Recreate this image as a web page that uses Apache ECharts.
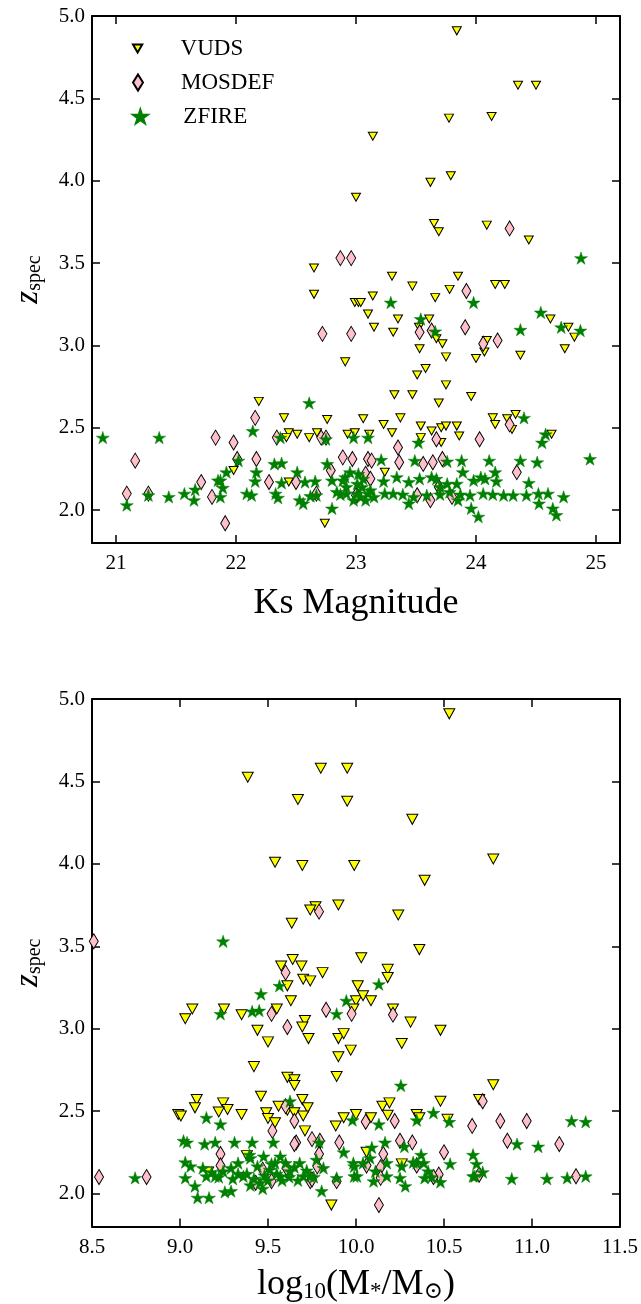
<!DOCTYPE html>
<html>
<head>
<meta charset="utf-8">
<script src="https://cdn.jsdelivr.net/npm/echarts@6/dist/echarts.min.js"></script>
<style>
html,body{margin:0;padding:0;background:#fff;}
#chart{width:641px;height:1304px;}
</style>
</head>
<body>
<div id="chart"></div>
<script>
// ---------------- DATA ----------------
const seriesNames = ['VUDS', 'MOSDEF', 'ZFIRE'];
const ticksZ = [2.0, 2.5, 3.0, 3.5, 4.0, 4.5, 5.0];
const ticksKs = [21, 22, 23, 24, 25];
const ticksMass = [8.5, 9.0, 9.5, 10.0, 10.5, 11.0, 11.5];

// Top panel: [Ks magnitude, z_spec]
const vudsKs = [
[23.84,4.91],[24.35,4.58],[24.50,4.58],[24.13,4.39],[23.775,4.38],[23.14,4.27],[23.79,4.03],[23.62,3.99],
[23.00,3.90],[23.65,3.74],[23.69,3.69],[24.09,3.73],[24.44,3.64],[23.30,3.42],[23.85,3.42],[22.65,3.47],
[22.65,3.31],[22.99,3.26],[23.02,3.26],[22.91,2.90],[23.47,3.36],[23.78,3.34],[24.16,3.37],[24.24,3.37],
[23.04,3.26],[23.14,3.30],[23.66,3.29],[23.10,3.19],[23.15,3.11],[23.35,3.16],[23.31,3.08],[23.61,3.16],
[23.525,3.11],[23.67,3.04],[23.72,3.01],[23.53,2.98],[23.75,2.93],[24.00,2.92],[24.07,2.96],[24.09,3.03],
[24.37,2.94],[24.62,3.16],[24.77,3.11],[24.82,3.05],[24.74,2.98],[23.58,2.86],[23.51,2.82],[23.75,2.76],
[23.32,2.70],[23.47,2.70],[23.96,2.69],[23.69,2.65],[22.19,2.66],[22.40,2.56],[22.76,2.55],[23.06,2.555],
[23.37,2.56],[23.23,2.52],[24.14,2.56],[24.26,2.555],[24.33,2.58],[24.16,2.52],[24.30,2.49],[23.54,2.51],
[23.30,2.47],[23.63,2.48],[23.71,2.50],[23.75,2.51],[23.84,2.51],[23.86,2.45],[23.54,2.44],[23.11,2.46],
[22.44,2.47],[22.51,2.46],[22.61,2.44],[22.675,2.47],[22.42,2.44],[22.93,2.46],[22.99,2.47],[23.71,2.41],
[24.63,2.46],[21.98,2.24],[22.44,2.17],[23.24,2.23],[22.74,1.92]
];
const mosdefKs = [
[22.87,3.53],[22.96,3.53],[24.28,3.71],[22.72,3.07],[22.96,3.07],[22.16,2.56],[21.83,2.44],[21.98,2.41],
[22.34,2.44],[22.71,2.44],[22.75,2.44],[21.16,2.30],[22.01,2.31],[22.17,2.31],[22.89,2.32],[22.97,2.31],
[22.79,2.24],[21.71,2.17],[22.275,2.17],[22.50,2.17],[21.80,2.08],[21.09,2.10],[21.27,2.10],[22.67,2.10],
[23.01,2.09],[21.91,1.92],[23.92,3.33],[23.91,3.11],[23.53,3.08],[23.63,3.09],[24.06,3.01],[24.18,3.03],
[24.28,2.52],[23.67,2.43],[24.03,2.43],[23.35,2.38],[23.10,2.31],[23.13,2.30],[23.36,2.29],[23.56,2.28],
[23.64,2.29],[23.72,2.31],[24.34,2.23],[23.08,2.22],[23.12,2.19],[23.00,2.09],[23.62,2.06],[23.80,2.08],
[23.51,2.09],[23.69,2.14]
];
const zfireKs = [
[20.89,2.44],[21.36,2.44],[22.61,2.65],[22.14,2.48],[22.37,2.44],[22.75,2.43],[22.98,2.44],[22.02,2.30],
[22.32,2.28],[22.38,2.285],[22.76,2.28],[21.92,2.23],[21.85,2.18],[22.17,2.23],[22.16,2.175],[22.51,2.23],
[22.38,2.165],[22.575,2.17],[22.66,2.175],[22.80,2.18],[21.89,2.135],[21.66,2.125],[21.57,2.10],[21.44,2.08],
[21.27,2.09],[21.09,2.03],[21.65,2.06],[21.87,2.08],[22.09,2.10],[22.13,2.09],[22.33,2.10],[22.35,2.075],
[22.53,2.06],[22.56,2.04],[22.62,2.085],[22.67,2.09],[22.80,2.01],[22.84,2.11],[22.89,2.18],[22.92,2.10],
[22.95,2.23],[23.01,2.16],[23.29,3.26],[23.98,3.26],[23.54,3.16],[23.66,3.085],[24.54,3.20],[24.37,3.095],
[24.71,3.11],[24.87,3.09],[24.875,3.53],[24.40,2.56],[24.58,2.46],[24.55,2.41],[24.95,2.31],[23.10,2.44],
[23.52,2.41],[23.21,2.305],[23.49,2.30],[23.76,2.295],[23.88,2.30],[24.11,2.30],[24.37,2.30],[24.51,2.29],
[23.89,2.23],[24.16,2.23],[24.44,2.165],[24.04,2.20],[24.075,2.19],[24.17,2.175],[23.06,2.19],[23.23,2.175],
[23.34,2.20],[23.44,2.17],[23.53,2.19],[23.67,2.19],[23.76,2.16],[23.84,2.16],[23.98,2.18],[23.01,2.10],
[23.10,2.10],[23.24,2.10],[23.31,2.10],[23.39,2.095],[23.48,2.08],[23.59,2.09],[23.70,2.095],[23.78,2.11],
[23.87,2.095],[23.95,2.09],[24.06,2.10],[24.14,2.095],[24.23,2.09],[24.31,2.09],[24.42,2.09],[24.52,2.10],
[24.60,2.10],[24.73,2.08],[23.44,2.04],[23.85,2.06],[23.96,2.01],[24.02,1.96],[24.525,2.04],[24.64,2.01],
[24.67,1.97],[21.87,2.18],[22.91,2.20],[22.87,2.095],[22.92,2.14],[23.02,2.22],[23.05,2.14],[23.08,2.06],
[23.12,2.12],[23.15,2.08],[22.98,2.06],[23.04,2.08],[23.63,2.20],[23.70,2.14]
];

// Bottom panel: [log10(M*/Msun), z_spec]
const vudsMass = [
[9.80,4.58],[9.95,4.58],[9.385,4.525],[9.67,4.39],[9.95,4.38],[9.54,4.01],[9.695,3.99],[9.99,3.99],
[9.77,3.74],[9.74,3.72],[9.90,3.75],[9.635,3.64],[10.53,4.91],[10.32,4.27],[10.78,4.03],[10.39,3.90],
[10.24,3.69],[10.36,3.48],[10.03,3.43],[9.64,3.42],[9.575,3.38],[9.69,3.38],[9.81,3.34],[9.70,3.30],
[9.74,3.29],[9.61,3.26],[10.01,3.26],[9.63,3.17],[10.00,3.17],[9.55,3.12],[9.985,3.12],[9.03,3.06],
[9.07,3.12],[9.25,3.12],[9.35,3.085],[9.71,3.05],[9.695,3.01],[9.44,2.99],[9.50,2.92],[9.73,2.94],
[9.90,2.94],[9.93,2.97],[9.97,2.87],[9.90,2.83],[9.42,2.77],[9.89,2.71],[9.61,2.705],[9.65,2.69],
[9.65,2.655],[9.46,2.59],[9.695,2.57],[9.725,2.52],[9.095,2.57],[9.085,2.52],[9.245,2.55],[9.27,2.51],
[9.22,2.495],[8.99,2.48],[9.005,2.47],[9.35,2.48],[9.49,2.49],[9.50,2.455],[9.54,2.43],[9.56,2.53],
[9.61,2.505],[9.65,2.49],[9.70,2.47],[9.71,2.38],[9.885,2.41],[9.93,2.46],[10.00,2.48],[9.86,1.93],
[9.16,2.13],[9.38,2.23],[10.18,3.36],[10.18,3.31],[10.04,3.20],[10.085,3.17],[10.21,3.12],[10.31,3.04],
[10.48,2.99],[10.26,2.91],[10.78,2.66],[10.15,2.53],[10.19,2.55],[10.48,2.56],[10.70,2.57],[10.085,2.46],
[10.18,2.475],[10.345,2.48],[10.36,2.46],[10.52,2.45],[10.26,2.18],[10.06,2.25]
];
const mosdefMass = [
[8.51,3.53],[9.79,3.71],[9.60,3.34],[9.52,3.09],[9.61,3.01],[9.83,3.115],[9.975,3.09],[9.60,2.53],
[9.65,2.44],[9.525,2.38],[9.66,2.31],[9.65,2.30],[9.75,2.33],[9.795,2.32],[9.905,2.31],[9.23,2.24],
[9.23,2.17],[8.54,2.10],[8.81,2.10],[9.79,2.24],[9.47,2.145],[9.52,2.075],[9.43,2.065],[9.74,2.075],
[9.89,2.075],[10.21,3.085],[10.72,2.56],[10.055,2.435],[10.22,2.44],[10.66,2.41],[10.82,2.44],[10.97,2.44],
[10.25,2.32],[10.32,2.31],[10.86,2.32],[11.155,2.30],[10.50,2.25],[10.155,2.24],[10.06,2.17],[10.14,2.16],
[10.345,2.17],[10.47,2.115],[10.70,2.115],[11.25,2.105],[10.13,1.93],[10.14,2.095],[10.44,2.10],[9.605,2.155],
[9.78,2.165],[9.75,2.085]
];
const zfireMass = [
[9.245,3.53],[9.565,3.26],[9.46,3.21],[9.23,3.09],[9.41,3.105],[9.45,3.11],[9.89,3.09],[9.945,3.17],
[9.625,2.56],[9.15,2.46],[9.23,2.42],[9.98,2.445],[9.79,2.31],[9.93,2.25],[9.02,2.32],[9.04,2.31],
[9.14,2.30],[9.20,2.31],[9.31,2.31],[9.41,2.31],[9.53,2.31],[9.03,2.19],[9.06,2.165],[9.13,2.155],
[9.03,2.095],[9.085,2.045],[9.10,1.975],[9.165,1.975],[8.745,2.095],[9.15,2.105],[9.20,2.105],[9.245,2.135],
[9.255,2.01],[9.29,2.015],[9.33,2.185],[9.36,2.105],[9.40,2.215],[9.44,2.165],[9.455,2.065],[9.475,2.225],
[9.51,2.145],[9.54,2.185],[9.57,2.105],[9.60,2.185],[9.625,2.135],[9.68,2.185],[9.70,2.105],[9.74,2.105],
[9.775,2.205],[9.805,2.015],[9.815,2.155],[9.89,2.095],[9.985,2.185],[10.005,2.105],[9.395,2.235],[9.57,2.225],
[9.29,2.155],[10.13,3.27],[10.255,2.655],[10.44,2.49],[10.53,2.435],[10.345,2.445],[10.13,2.42],[11.225,2.44],
[11.305,2.435],[10.915,2.30],[11.035,2.285],[10.165,2.31],[10.09,2.28],[10.275,2.285],[10.665,2.235],[10.685,2.18],
[10.72,2.13],[10.665,2.105],[10.535,2.18],[10.37,2.235],[10.385,2.185],[10.325,2.19],[10.26,2.165],[10.175,2.185],
[10.08,2.215],[10.04,2.185],[9.99,2.165],[9.99,2.105],[10.10,2.075],[10.175,2.105],[10.25,2.095],[10.28,2.045],
[10.39,2.095],[10.43,2.10],[10.48,2.07],[10.675,2.105],[10.885,2.09],[11.085,2.09],[11.20,2.095],[11.305,2.105],
[10.11,2.135],[10.345,2.185],[10.41,2.135],[9.38,2.12],[9.42,2.09],[9.48,2.11],[9.50,2.08],[9.52,2.18],
[9.55,2.12],[9.58,2.08],[9.62,2.10],[9.65,2.16],[9.67,2.08],[9.72,2.14],[9.76,2.10],[9.33,2.12],
[9.30,2.09],[9.22,2.10],[9.18,2.13],[9.40,2.05],[9.47,2.03]
];

// ---------------- STYLE ----------------
const FONT = "'Liberation Serif','DejaVu Serif',serif";
const TRI = 'path://M0,0L10,0L5,8.66Z';
const DIA = 'path://M5,0L10,8L5,16L0,8Z';
const STAR = 'path://M50,0L61.23,34.55L97.55,34.55L68.17,55.9L79.39,90.45L50,69.1L20.61,90.45L31.83,55.9L2.45,34.55L38.77,34.55Z';

const styleV = {color:'#ffff00', borderColor:'#000', borderWidth:1, opacity:1};
const styleM = {color:'#ffc0cb', borderColor:'#000', borderWidth:1, opacity:1};
const styleZ = {color:'#008000', borderColor:'#008000', borderWidth:0.5, opacity:1};

const fmt1 = v => Number(v).toFixed(1);

function mkX(grid, min, max, ticks, pos, opts) {
  const isMain = pos === 'bottom';
  return Object.assign({
    type:'value', gridIndex:grid, position:pos, min:min, max:max,
    axisLine:{show:true, onZero:false, lineStyle:{color:'#000', width:2}},
    axisTick:{show:true, inside:true, length:8, customValues:ticks, lineStyle:{color:'#000', width:1.5}},
    axisLabel:{show:isMain, customValues:ticks, margin:10, color:'#000', fontSize:21, fontFamily:FONT},
    splitLine:{show:false}
  }, opts || {});
}
function mkY(grid, pos, opts) {
  const isMain = pos === 'left';
  return Object.assign({
    type:'value', gridIndex:grid, position:pos, min:1.8, max:5.0,
    axisLine:{show:true, onZero:false, lineStyle:{color:'#000', width:2}},
    axisTick:{show:true, inside:true, length:8, customValues:ticksZ, lineStyle:{color:'#000', width:1.5}},
    axisLabel:{show:isMain, customValues:ticksZ, formatter:fmt1, margin:7, color:'#000', fontSize:21, fontFamily:FONT},
    splitLine:{show:false}
  }, opts || {});
}

const zName = {
  name:'{z|z}{s|spec}', nameLocation:'middle', nameGap:46, nameRotate:90,
  nameTextStyle:{fontFamily:FONT, color:'#000',
    rich:{z:{fontSize:33, fontStyle:'italic', fontFamily:FONT, color:'#000', lineHeight:36},
          s:{fontSize:20, fontFamily:FONT, color:'#000', padding:[13,0,0,0]}}}
};

const legendText = {fontSize:23, fontFamily:FONT, color:'#000', lineHeight:22};
const option = {
  animation:false,
  backgroundColor:'#fff',
  grid:[
    {left:92, top:16, width:528, height:527},
    {left:92, top:699, width:528, height:528}
  ],
  legend:[
    {data:[{name:'VUDS', icon:TRI}], left:132, top:37, padding:0, orient:'vertical', itemWidth:76, itemHeight:8, symbolKeepAspect:true,
     textStyle:legendText, selectedMode:false},
    {data:[{name:'MOSDEF', icon:DIA}], left:132, top:71, padding:0, orient:'vertical', itemWidth:76, itemHeight:16, symbolKeepAspect:true,
     textStyle:legendText, selectedMode:false},
    {data:[{name:'ZFIRE', icon:STAR}], left:132, top:105, padding:0, orient:'vertical', itemWidth:76, itemHeight:14, symbolKeepAspect:true,
     textStyle:legendText, selectedMode:false}
  ],
  xAxis:[
    mkX(0, 20.8, 25.2, ticksKs, 'bottom', {
      name:'Ks Magnitude', nameLocation:'middle', nameGap:43,
      nameTextStyle:{fontSize:36, fontFamily:FONT, color:'#000'}}),
    mkX(0, 20.8, 25.2, ticksKs, 'top'),
    mkX(1, 8.5, 11.5, ticksMass, 'bottom', {
      axisLabel:{show:true, customValues:ticksMass, formatter:fmt1, margin:10, color:'#000', fontSize:21, fontFamily:FONT},
      name:'{n|log}{s|10}{n|(M}{s|*}{n|/M}{s|⊙}{n|)}', nameLocation:'middle', nameGap:38,
      nameTextStyle:{fontFamily:FONT, color:'#000',
        rich:{n:{fontSize:36, fontFamily:FONT, color:'#000', lineHeight:40},
              s:{fontSize:23, fontFamily:FONT, color:'#000', padding:[14,0,0,0]}}}}),
    mkX(1, 8.5, 11.5, ticksMass, 'top')
  ],
  yAxis:[
    mkY(0, 'left', zName),
    mkY(0, 'right'),
    mkY(1, 'left', zName),
    mkY(1, 'right')
  ],
  series:[
    {name:'VUDS', type:'scatter', xAxisIndex:0, yAxisIndex:0, data:vudsKs, symbol:TRI, symbolSize:[9,8], itemStyle:styleV},
    {name:'MOSDEF', type:'scatter', xAxisIndex:0, yAxisIndex:0, data:mosdefKs, symbol:DIA, symbolSize:[9,15], itemStyle:styleM},
    {name:'ZFIRE', type:'scatter', xAxisIndex:0, yAxisIndex:0, data:zfireKs, symbol:STAR, symbolSize:13, symbolKeepAspect:true, itemStyle:styleZ},
    {name:'VUDS', type:'scatter', xAxisIndex:2, yAxisIndex:2, data:vudsMass, symbol:TRI, symbolSize:[11,10], itemStyle:styleV},
    {name:'MOSDEF', type:'scatter', xAxisIndex:2, yAxisIndex:2, data:mosdefMass, symbol:DIA, symbolSize:[9,15], itemStyle:styleM},
    {name:'ZFIRE', type:'scatter', xAxisIndex:2, yAxisIndex:2, data:zfireMass, symbol:STAR, symbolSize:13, symbolKeepAspect:true, itemStyle:styleZ}
  ]
};

const chart = echarts.init(document.getElementById('chart'), null, {renderer:'canvas'});
chart.setOption(option);
</script>
</body>
</html>
